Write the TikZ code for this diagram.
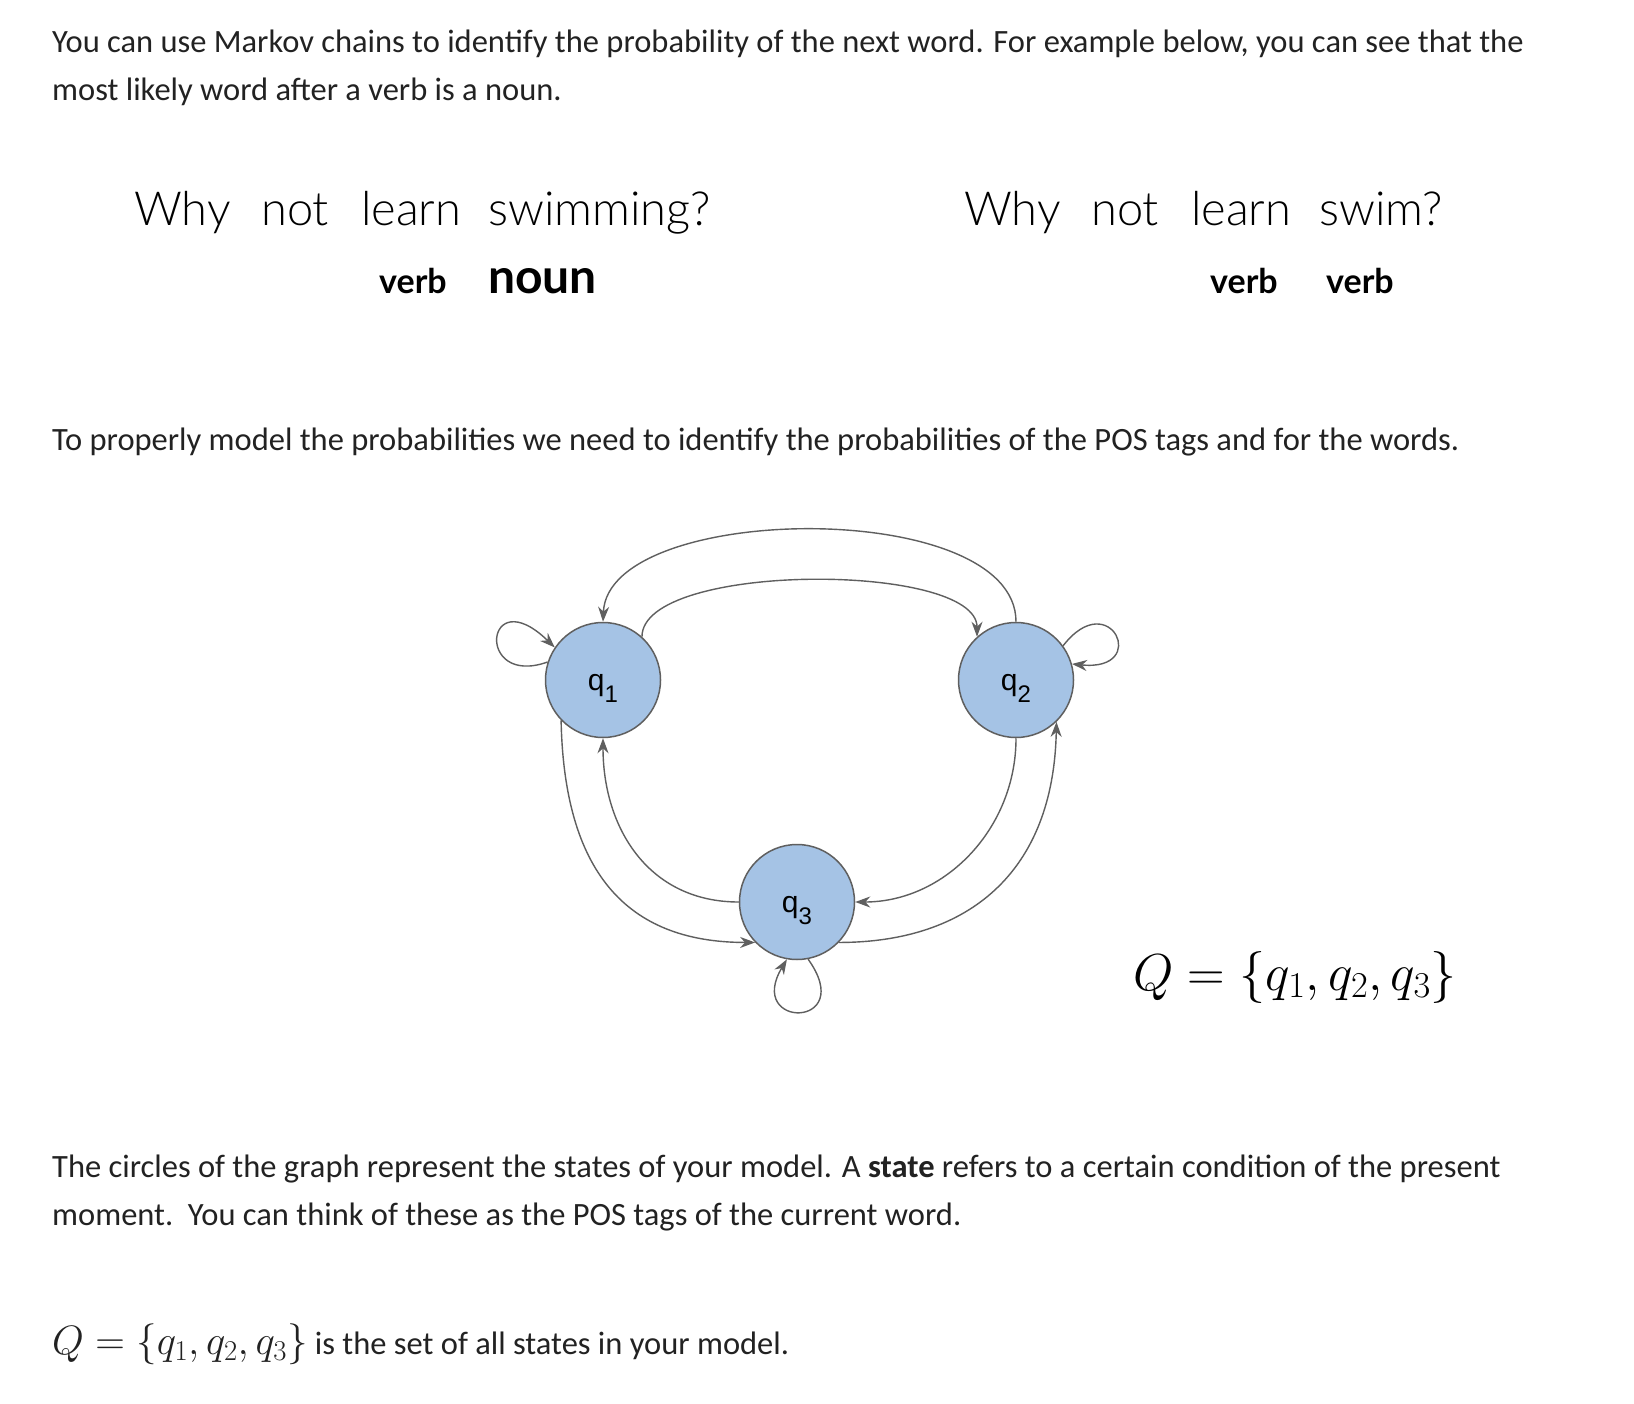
\RequirePackage{fix-cm}
\documentclass[tikz,border=0pt]{standalone}
\usepackage{fontspec}
\setmainfont{Carlito}
\newfontfamily\headfont{Lato Light}
\newfontfamily\tagfont{Lato}
\newfontfamily\statefont{Liberation Sans}
\usetikzlibrary{arrows.meta,positioning}
\definecolor{stateblue}{RGB}{165,195,229}
\definecolor{linegray}{RGB}{95,95,95}
\definecolor{textgray}{RGB}{34,34,34}

\tikzset{
    qstate/.style={circle, draw=linegray, line width=1.5pt, fill=stateblue, minimum size=115pt, inner sep=0pt,
        text height=26pt, text depth=6pt, font=\statefont\fontsize{30}{30}\selectfont},
    trans/.style={draw=linegray, line width=1.4pt, -{Stealth[length=15pt,width=11pt]}},
    body/.style={anchor=base west, inner sep=0pt, text=textgray, font=\fontsize{32.5}{40}\selectfont},
    head/.style={anchor=base west, inner sep=0pt, font=\headfont\fontsize{47}{56}\selectfont},
    tag/.style={anchor=base west, inner sep=0pt, font=\tagfont\bfseries\fontsize{34}{40}\selectfont},
}
\newcommand{\qsub}[1]{q\raisebox{-12pt}{\fontsize{24}{24}\selectfont #1}}

\begin{document}
\begin{tikzpicture}[x=1pt, y=-1pt]
    \fill[white] (0,0) rectangle (1634,1404);
    \useasboundingbox (0,0) rectangle (1634,1404);

    % intro text
    \node[body] (intro1) at (52,53) {You can use Markov chains to identify the probability of the next word. For example below, you can see that the};
    \node[body] (intro2) at (52,101) {most likely word after a verb is a noun.};

    % the two example sentences
    \foreach \w/\x [count=\i] in {Why/134, not/261, learn/361, swimming?/488}
        \node[head] (left\i) at (\x,226) {\w};
    \foreach \w/\x [count=\i] in {Why/964, not/1091, learn/1191, swim?/1319}
        \node[head] (right\i) at (\x,226) {\w};
    \node[tag] (tagl1) at (379,294) {verb};
    \node[tag, font=\tagfont\bfseries\fontsize{48}{52}\selectfont] (tagl2) at (488,294) {noun};
    \node[tag] (tagr1) at (1210,294) {verb};
    \node[tag] (tagr2) at (1326,294) {verb};

    \node[body] (model) at (52,451) {To properly model the probabilities we need to identify the probabilities of the POS tags and for the words.};

    % states
    \node[qstate] (q1) at (603,680) {\qsub{1}};
    \node[qstate] (q2) at (1016,680) {\qsub{2}};
    \node[qstate] (q3) at (797,902) {\qsub{3}};

    % transitions
    \draw[trans] (q2.north) .. controls +(0,-125) and +(5,-120) .. (q1.north);   % outer top
    \draw[trans] (q1.48) .. controls +(0,-75) and +(0,-75) .. (q2.132);          % inner top
    \draw[trans] (q1.224) .. controls +(3,150) and +(-130,0) .. (q3.224);        % q1 to q3
    \draw[trans] (q3.west) .. controls +(-90,0) and +(0,90) .. (q1.south);       % q3 to q1
    \draw[trans] (q2.south) .. controls +(0,90) and +(90,0) .. (q3.east);        % q2 to q3
    \draw[trans] (q3.-44) .. controls +(130,0) and +(-3,150) .. (q2.-46);        % q3 to q2
    % self loops
    \draw[trans] (q1.162) .. controls +(-73,26) and +(-70,-68) .. (q1.146);
    \draw[trans] (q2.36) .. controls +(47,-61) and +(79,8) .. (q2.16);
    \draw[trans] (q3.281) .. controls +(50,70) and +(-42,70) .. (q3.260);

    \node[anchor=base west, inner sep=0pt, font=\fontsize{52}{62}\selectfont] (qset) at (1133,990) {$Q=\{q_1,q_2,q_3\}$};

    \node[body] (circles1) at (52,1177) {The circles of the graph represent the states of your model. A \textbf{state} refers to a certain condition of the present};
    \node[body] (circles2) at (52,1225) {moment.\ \ You can think of these as the POS tags of the current word.};

    \node[body] (qdef) at (52,1354) {\fontsize{41}{48}\selectfont$Q=\{q_1,q_2,q_3\}$\fontsize{32.5}{40}\selectfont{} is the set of all states in your model.};
\end{tikzpicture}
\end{document}
